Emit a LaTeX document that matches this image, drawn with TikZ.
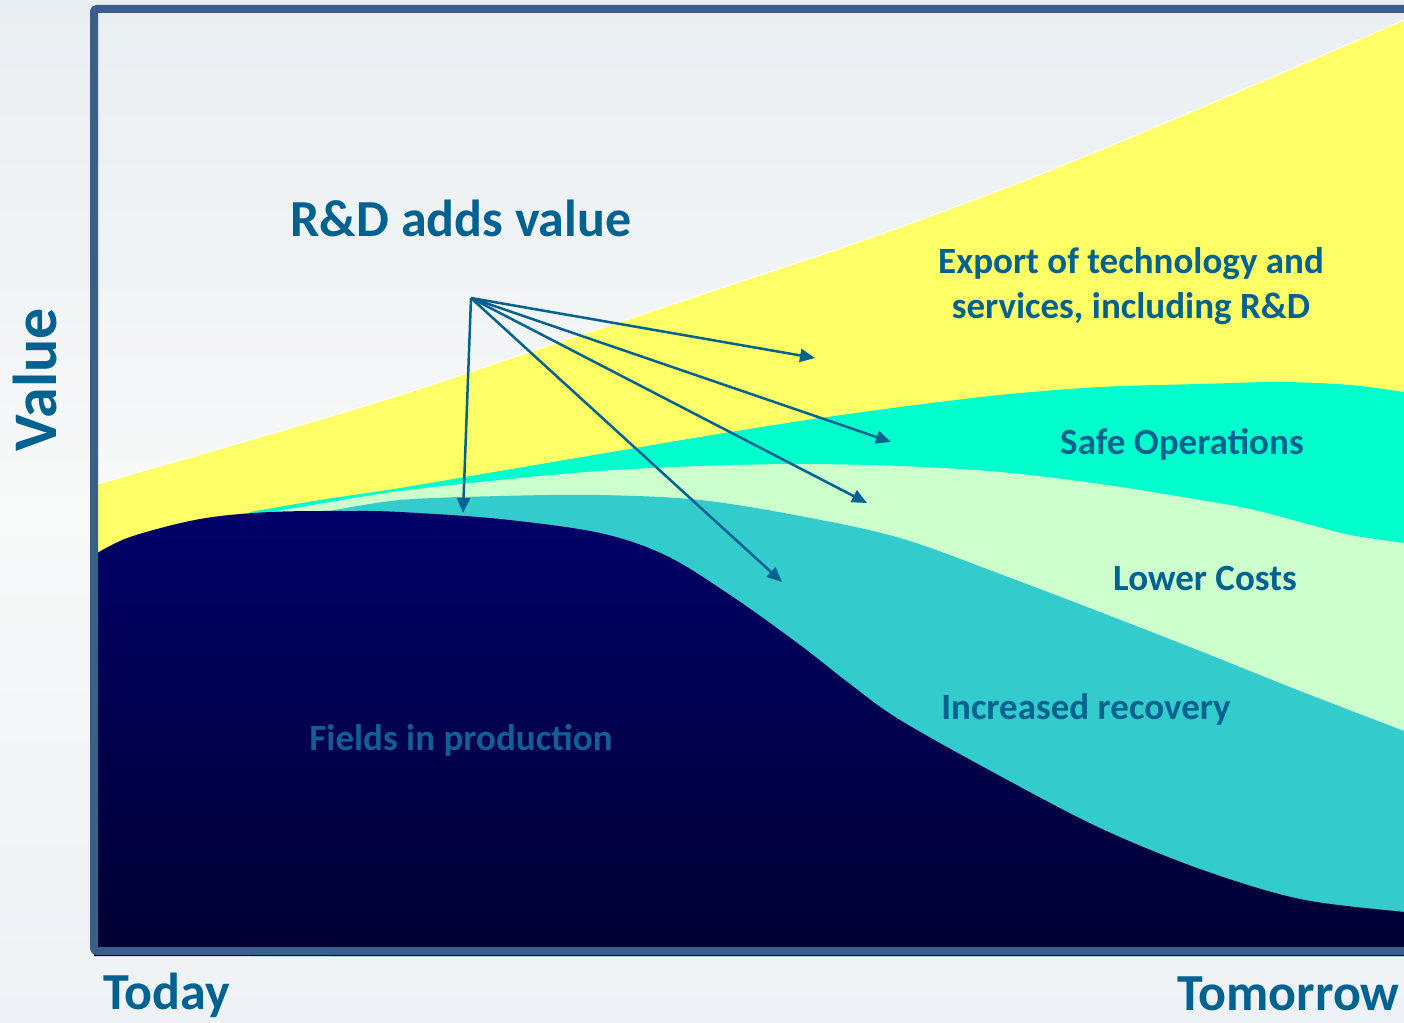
\documentclass[tikz,border=0pt]{standalone}
\usepackage{fontspec}
\setmainfont{Carlito}
\usetikzlibrary{arrows.meta}
\definecolor{txtc}{RGB}{0,98,145}
\definecolor{fieldc}{RGB}{18,94,150}
\definecolor{framec}{RGB}{59,94,139}
\definecolor{yellowc}{RGB}{255,255,102}
\definecolor{cyanc}{RGB}{0,255,204}
\definecolor{lgreenc}{RGB}{204,255,204}
\definecolor{tealc}{RGB}{51,204,204}
\definecolor{navytop}{RGB}{0,0,104}
\definecolor{navybot}{RGB}{0,0,50}
\definecolor{bgtop}{RGB}{233,238,242}
\definecolor{bgmid}{RGB}{248,249,249}
\definecolor{bgbot}{RGB}{238,242,246}
\begin{document}
\begin{tikzpicture}[x=1pt,y=-1pt,
  lbl/.style={text=txtc,font=\bfseries\fontsize{37}{45}\selectfont,align=center,inner sep=0pt},
  big/.style={text=txtc,font=\bfseries\fontsize{52}{60}\selectfont,inner sep=0pt},
  arr/.style={draw=txtc,line width=2.5pt,-{Triangle[length=15pt,width=13pt]}},
  layer/.style={smooth,tension=0.55}]
\useasboundingbox (0,0) rectangle (1404,1022);
\clip (0,0) rectangle (1404,1022);
% background
\shade[top color=bgtop,bottom color=bgbot,middle color=bgmid] (0,0) rectangle (1404,1022);
% layers
\fill[yellowc,draw=white,line width=1pt] plot[layer] coordinates {(94,485) (250,440) (400,395) (550,345) (700,295) (850,245) (1000,190) (1100,150) (1200,108) (1300,65) (1404,20) (1412,17)} -- (1412,956) -- (94,956) -- cycle;
\fill[cyanc] plot[layer] coordinates {(250,512) (320,500) (400,488) (500,471) (600,454) (700,437) (800,421) (900,407) (1000,395) (1100,387) (1200,384) (1280,382) (1350,385) (1404,392) (1412,393)} -- (1412,956) -- (250,956) -- cycle;
\fill[lgreenc] plot[layer] coordinates {(272,512) (330,502) (400,491) (500,480) (600,471) (700,466) (800,464) (900,466) (1000,472) (1100,484) (1200,500) (1250,509) (1300,522) (1350,535) (1404,543) (1412,544)} -- (1412,956) -- (272,956) -- cycle;
\fill[tealc] plot[layer] coordinates {(330,511) (400,500) (500,496) (600,495) (700,500) (800,516) (900,538) (1000,574) (1100,612) (1200,651) (1300,691) (1404,731) (1412,734)} -- (1412,956) -- (330,956) -- cycle;
\shade[top color=navytop,bottom color=navybot] plot[layer] coordinates {(94,555) (130,537) (200,519) (270,512) (350,511) (400,512) (500,519) (600,533) (667,556) (733,597) (800,645) (850,684) (900,720) (1000,776) (1100,828) (1200,869) (1300,899) (1404,912) (1412,913)} -- (1412,956) -- (94,956) -- cycle;
% frame
\draw[framec,line width=8pt,rounded corners=3pt] (94,9) rectangle (1430,951);
% labels
\node[big,anchor=base] (rd) at (461,236) {R\&D adds value};
\node[lbl,anchor=base] (exp) at (1131,318) {Export of technology and\\services, including R\&D};
\node[lbl,anchor=base] (safe) at (1182,454) {Safe Operations};
\node[lbl,anchor=base] (low) at (1205,590) {Lower Costs};
\node[lbl,anchor=base] (inc) at (1086,719) {Increased recovery};
\node[lbl,anchor=base,text=fieldc] (fld) at (461,750) {Fields in production};
\node[text=txtc,font=\bfseries\fontsize{62}{70}\selectfont,inner sep=0pt,rotate=90,anchor=base] (val) at (56,380) {Value};
\node[text=txtc,font=\bfseries\fontsize{52}{60}\selectfont,inner sep=0pt,anchor=base west] (tod) at (103,1009) {Today};
\node[text=txtc,font=\bfseries\fontsize{52}{60}\selectfont,inner sep=0pt,anchor=base west] (tom) at (1177,1010) {Tomorrow};
% arrows
\coordinate (src) at (471,298);
\coordinate (t1) at (815,358);
\coordinate (t2) at (891,442);
\coordinate (t3) at (867,503);
\coordinate (t4) at (782,582);
\coordinate (t5) at (463,513);
\draw[arr] (src) -- (t1);
\draw[arr] (src) -- (t2);
\draw[arr] (src) -- (t3);
\draw[arr] (src) -- (t4);
\draw[arr] (src) -- (t5);
\end{tikzpicture}
\end{document}
